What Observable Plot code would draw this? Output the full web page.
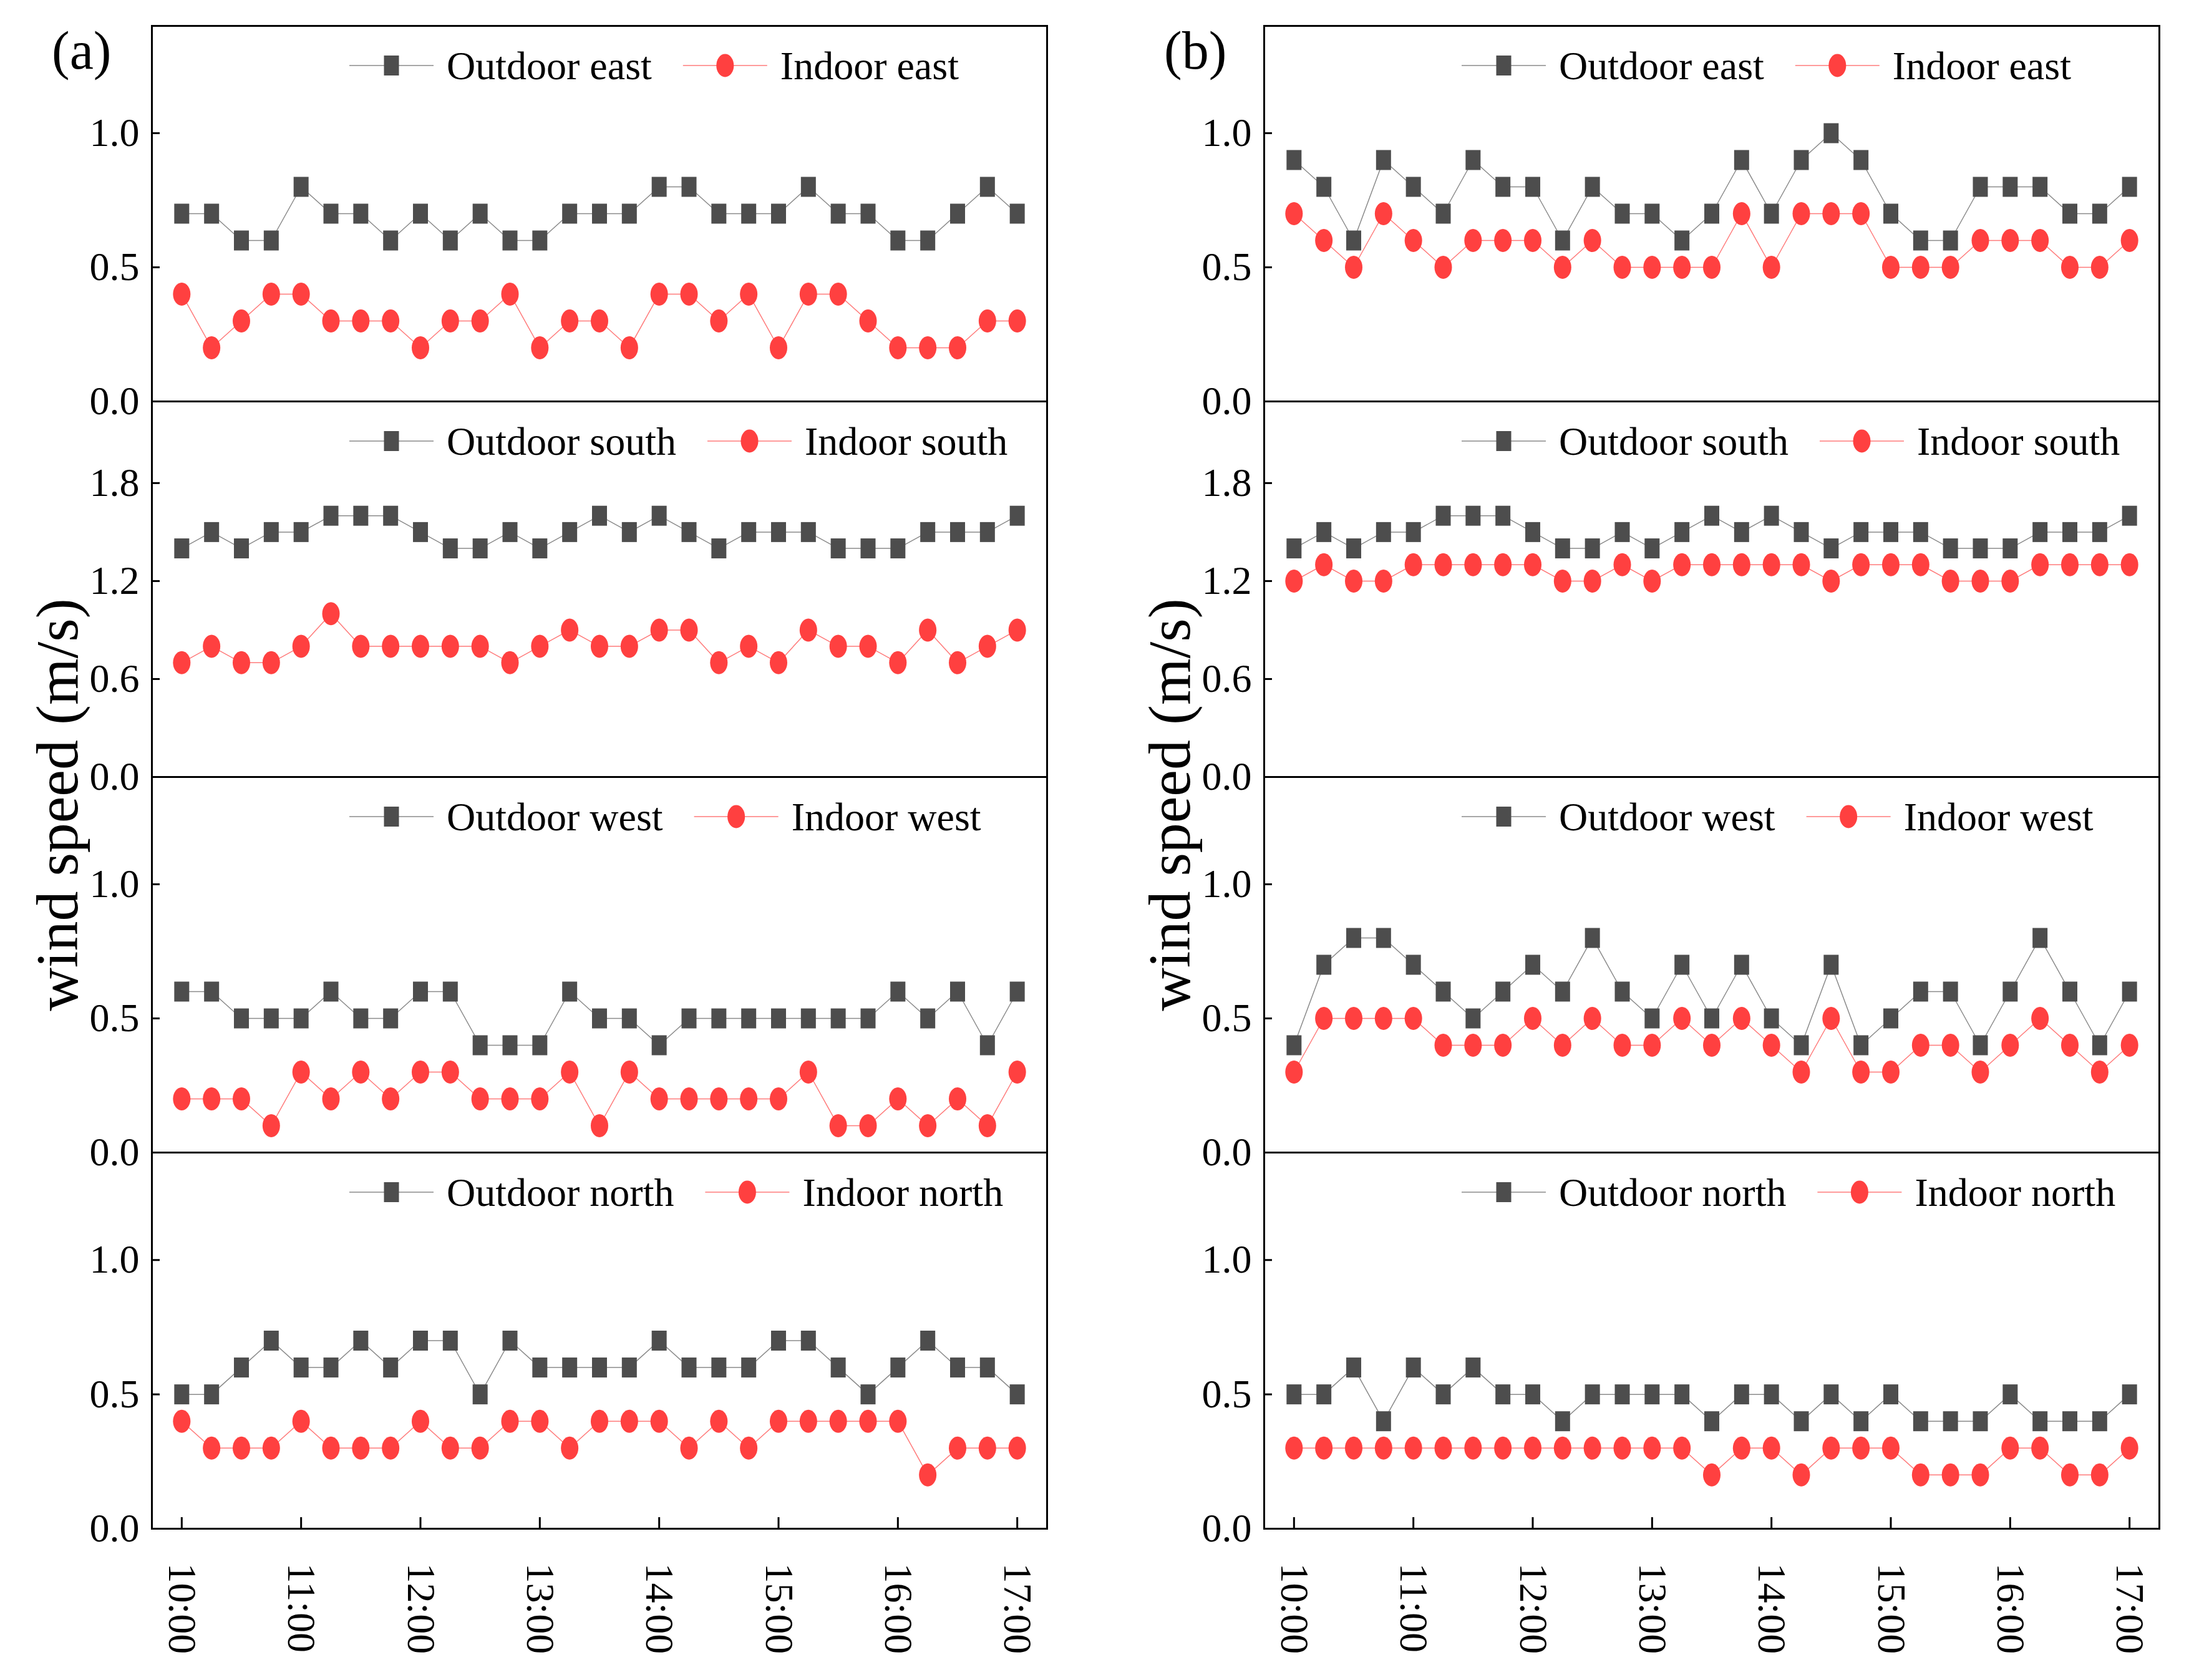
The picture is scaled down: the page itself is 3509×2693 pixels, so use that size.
<!DOCTYPE html>
<html>
<head>
<meta charset="utf-8">
<script src="https://cdn.jsdelivr.net/npm/d3@7"></script>
<script src="https://cdn.jsdelivr.net/npm/@observablehq/plot@0.6"></script>
<style>
html, body { margin: 0; padding: 0; background: #fff; }
#chart { position: relative; width: 3509px; height: 2693px; background: #fff; overflow: hidden;
  font-family: "Liberation Serif", "Times New Roman", serif; }
.panel { position: absolute; }
</style>
</head>
<body>
<div id="chart"></div>
<script>
// ---------------- DATA ----------------
const times = ["10:00","10:15","10:30","10:45","11:00","11:15","11:30","11:45","12:00","12:15","12:30","12:45",
  "13:00","13:15","13:30","13:45","14:00","14:15","14:30","14:45","15:00","15:15","15:30","15:45","16:00",
  "16:15","16:30","16:45","17:00"];
const tickLabels = ["10:00","11:00","12:00","13:00","14:00","15:00","16:00","17:00"];

const yTicksSmall = [0.0, 0.5, 1.0];
const yTicksSouth = [0.0, 0.6, 1.2, 1.8];
const yDomainSmall = [0, 1.4];
const yDomainSouth = [0, 2.3];

const directions = ["east", "south", "west", "north"];
const panelLetters = ["(a)", "(b)"];

// panel (a)
const aOutdoorEast  = [0.7,0.7,0.6,0.6,0.8,0.7,0.7,0.6,0.7,0.6,0.7,0.6,0.6,0.7,0.7,0.7,0.8,0.8,0.7,0.7,0.7,0.8,0.7,0.7,0.6,0.6,0.7,0.8,0.7];
const aIndoorEast   = [0.4,0.2,0.3,0.4,0.4,0.3,0.3,0.3,0.2,0.3,0.3,0.4,0.2,0.3,0.3,0.2,0.4,0.4,0.3,0.4,0.2,0.4,0.4,0.3,0.2,0.2,0.2,0.3,0.3];
const aOutdoorSouth = [1.4,1.5,1.4,1.5,1.5,1.6,1.6,1.6,1.5,1.4,1.4,1.5,1.4,1.5,1.6,1.5,1.6,1.5,1.4,1.5,1.5,1.5,1.4,1.4,1.4,1.5,1.5,1.5,1.6];
const aIndoorSouth  = [0.7,0.8,0.7,0.7,0.8,1.0,0.8,0.8,0.8,0.8,0.8,0.7,0.8,0.9,0.8,0.8,0.9,0.9,0.7,0.8,0.7,0.9,0.8,0.8,0.7,0.9,0.7,0.8,0.9];
const aOutdoorWest  = [0.6,0.6,0.5,0.5,0.5,0.6,0.5,0.5,0.6,0.6,0.4,0.4,0.4,0.6,0.5,0.5,0.4,0.5,0.5,0.5,0.5,0.5,0.5,0.5,0.6,0.5,0.6,0.4,0.6];
const aIndoorWest   = [0.2,0.2,0.2,0.1,0.3,0.2,0.3,0.2,0.3,0.3,0.2,0.2,0.2,0.3,0.1,0.3,0.2,0.2,0.2,0.2,0.2,0.3,0.1,0.1,0.2,0.1,0.2,0.1,0.3];
const aOutdoorNorth = [0.5,0.5,0.6,0.7,0.6,0.6,0.7,0.6,0.7,0.7,0.5,0.7,0.6,0.6,0.6,0.6,0.7,0.6,0.6,0.6,0.7,0.7,0.6,0.5,0.6,0.7,0.6,0.6,0.5];
const aIndoorNorth  = [0.4,0.3,0.3,0.3,0.4,0.3,0.3,0.3,0.4,0.3,0.3,0.4,0.4,0.3,0.4,0.4,0.4,0.3,0.4,0.3,0.4,0.4,0.4,0.4,0.4,0.2,0.3,0.3,0.3];

// panel (b)
const bOutdoorEast  = [0.9,0.8,0.6,0.9,0.8,0.7,0.9,0.8,0.8,0.6,0.8,0.7,0.7,0.6,0.7,0.9,0.7,0.9,1.0,0.9,0.7,0.6,0.6,0.8,0.8,0.8,0.7,0.7,0.8];
const bIndoorEast   = [0.7,0.6,0.5,0.7,0.6,0.5,0.6,0.6,0.6,0.5,0.6,0.5,0.5,0.5,0.5,0.7,0.5,0.7,0.7,0.7,0.5,0.5,0.5,0.6,0.6,0.6,0.5,0.5,0.6];
const bOutdoorSouth = [1.4,1.5,1.4,1.5,1.5,1.6,1.6,1.6,1.5,1.4,1.4,1.5,1.4,1.5,1.6,1.5,1.6,1.5,1.4,1.5,1.5,1.5,1.4,1.4,1.4,1.5,1.5,1.5,1.6];
const bIndoorSouth  = [1.2,1.3,1.2,1.2,1.3,1.3,1.3,1.3,1.3,1.2,1.2,1.3,1.2,1.3,1.3,1.3,1.3,1.3,1.2,1.3,1.3,1.3,1.2,1.2,1.2,1.3,1.3,1.3,1.3];
const bOutdoorWest  = [0.4,0.7,0.8,0.8,0.7,0.6,0.5,0.6,0.7,0.6,0.8,0.6,0.5,0.7,0.5,0.7,0.5,0.4,0.7,0.4,0.5,0.6,0.6,0.4,0.6,0.8,0.6,0.4,0.6];
const bIndoorWest   = [0.3,0.5,0.5,0.5,0.5,0.4,0.4,0.4,0.5,0.4,0.5,0.4,0.4,0.5,0.4,0.5,0.4,0.3,0.5,0.3,0.3,0.4,0.4,0.3,0.4,0.5,0.4,0.3,0.4];
const bOutdoorNorth = [0.5,0.5,0.6,0.4,0.6,0.5,0.6,0.5,0.5,0.4,0.5,0.5,0.5,0.5,0.4,0.5,0.5,0.4,0.5,0.4,0.5,0.4,0.4,0.4,0.5,0.4,0.4,0.4,0.5];
const bIndoorNorth  = [0.3,0.3,0.3,0.3,0.3,0.3,0.3,0.3,0.3,0.3,0.3,0.3,0.3,0.3,0.2,0.3,0.3,0.2,0.3,0.3,0.3,0.2,0.2,0.2,0.3,0.3,0.2,0.2,0.3];

// ---------------- LAYOUT / STYLE ----------------
const W = 3509, H = 2693;
const FONT = '"Liberation Serif", "Times New Roman", serif';
const OUT_FILL = "#4d4d4d", OUT_LINE = "#8a8a8a";
const IN_FILL = "#ff4040", IN_LINE = "#ff7a7a";
const frameLefts = [243, 2026];
const FW = 1435;
const rowEdges = [41, 643, 1245, 1847, 2450];
const ML = 200, MR = 40, MT = 40, MB = 40, MB_LAST = 290;

const toHours = t => { const [h, m] = t.split(":").map(Number); return h + m / 60; };
const xDomain = [toHours(times[0]) - 0.25, toHours(times[times.length - 1]) + 0.25];

const SQ_W = 24, SQ_H = 32, EL_RX = 14, EL_RY = 18.5;
const squareSym = { draw(ctx) { ctx.rect(-SQ_W / 2, -SQ_H / 2, SQ_W, SQ_H); } };
const ellipseSym = { draw(ctx) {
  const k = 0.5522847498, rx = EL_RX, ry = EL_RY;
  ctx.moveTo(rx, 0);
  ctx.bezierCurveTo(rx, k * ry, k * rx, ry, 0, ry);
  ctx.bezierCurveTo(-k * rx, ry, -rx, k * ry, -rx, 0);
  ctx.bezierCurveTo(-rx, -k * ry, -k * rx, -ry, 0, -ry);
  ctx.bezierCurveTo(k * rx, -ry, rx, -k * ry, rx, 0);
  ctx.closePath();
} };

const series = {
  a: { east: [aOutdoorEast, aIndoorEast], south: [aOutdoorSouth, aIndoorSouth],
       west: [aOutdoorWest, aIndoorWest], north: [aOutdoorNorth, aIndoorNorth] },
  b: { east: [bOutdoorEast, bIndoorEast], south: [bOutdoorSouth, bIndoorSouth],
       west: [bOutdoorWest, bIndoorWest], north: [bOutdoorNorth, bIndoorNorth] }
};

const chart = document.getElementById("chart");

function makePanel(outdoor, indoor, dir, showX, FH) {
  const data = times.map((t, i) => ({ h: toHours(t), out: outdoor[i], ind: indoor[i] }));
  const south = dir === "south";
  const ticks = south ? yTicksSouth : yTicksSmall;
  const mb = showX ? MB_LAST : MB;
  const marks = [
    Plot.line(data, { x: "h", y: "out", stroke: OUT_LINE, strokeWidth: 1.5 }),
    Plot.dot(data, { x: "h", y: "out", symbol: squareSym, fill: OUT_FILL, stroke: "none", r: 4 }),
    Plot.line(data, { x: "h", y: "ind", stroke: IN_LINE, strokeWidth: 1.5 }),
    Plot.dot(data, { x: "h", y: "ind", symbol: ellipseSym, fill: IN_FILL, stroke: "none", r: 4 }),
    Plot.tickY(ticks, { y: d => d, insetRight: FW - 13, stroke: "#000", strokeWidth: 3 }),
    Plot.axisY({ ticks, tickSize: 0, tickPadding: 20, tickFormat: d3.format(".1f"), fontSize: 64, label: null,
      fontFamily: FONT, fill: "#000" }),
    Plot.frame({ stroke: "#000", strokeWidth: 3 })
  ];
  if (showX) {
    const tickHours = tickLabels.map(toHours);
    marks.push(Plot.tickX(tickHours, { x: d => d, insetTop: FH - 18, stroke: "#000", strokeWidth: 3 }));
    marks.push(Plot.axisX({ ticks: tickHours, tickSize: 0, tickPadding: 55, tickRotate: 90, fontSize: 64,
      tickFormat: h => tickLabels[tickHours.indexOf(h)], label: null, fontFamily: FONT, fill: "#000" }));
  }
  return Plot.plot({
    width: ML + FW + MR,
    height: MT + FH + mb,
    marginLeft: ML, marginRight: MR, marginTop: MT, marginBottom: mb,
    x: { domain: xDomain, axis: null },
    y: { domain: south ? yDomainSouth : yDomainSmall, axis: null },
    style: { background: "transparent", overflow: "visible", maxWidth: "none", fontFamily: FONT },
    marks
  });
}

["a", "b"].forEach((key, col) => {
  directions.forEach((dir, row) => {
    const FH = rowEdges[row + 1] - rowEdges[row];
    const [outdoor, indoor] = series[key][dir];
    const svg = makePanel(outdoor, indoor, dir, row === 3, FH);
    const div = document.createElement("div");
    div.className = "panel";
    div.style.left = (frameLefts[col] - ML) + "px";
    div.style.top = (rowEdges[row] - MT) + "px";
    div.appendChild(svg);
    chart.appendChild(div);
  });
});

// ---------------- OVERLAY: legends, titles, panel letters ----------------
const overlay = d3.select(chart).append("svg")
  .attr("width", W).attr("height", H)
  .style("position", "absolute").style("left", 0).style("top", 0)
  .style("font-family", FONT);

function legendItem(g, x, y, label, kind) {
  g.append("line").attr("x1", x).attr("x2", x + 135).attr("y1", y).attr("y2", y)
    .attr("stroke", kind === "out" ? OUT_LINE : IN_LINE).attr("stroke-width", 1.5);
  if (kind === "out") {
    g.append("rect").attr("x", x + 67.5 - SQ_W / 2).attr("y", y - SQ_H / 2)
      .attr("width", SQ_W).attr("height", SQ_H).attr("fill", OUT_FILL);
  } else {
    g.append("ellipse").attr("cx", x + 67.5).attr("cy", y).attr("rx", EL_RX).attr("ry", EL_RY).attr("fill", IN_FILL);
  }
  const t = g.append("text").attr("x", x + 156).attr("y", y).attr("dy", "0.34em")
    .attr("font-size", 64).attr("fill", "#000").text(label);
  return x + 156 + t.node().getComputedTextLength();
}

["a", "b"].forEach((key, col) => {
  directions.forEach((dir, row) => {
    const g = overlay.append("g");
    const y = rowEdges[row] + 64;
    const x = frameLefts[col] + 317;
    const end = legendItem(g, x, y, "Outdoor " + dir, "out");
    legendItem(g, end + 50, y, "Indoor " + dir, "in");
  });
  // y-axis title
  const cx = frameLefts[col] - 119, cy = 1290;
  overlay.append("text").attr("transform", `translate(${cx},${cy}) rotate(-90)`)
    .attr("text-anchor", "middle").attr("font-size", 96).attr("fill", "#000").text("wind speed (m/s)");
  // panel letter
  overlay.append("text").attr("x", frameLefts[col] - 160).attr("y", 110)
    .attr("font-size", 86).attr("fill", "#000").text(panelLetters[col]);
});
</script>
</body>
</html>
